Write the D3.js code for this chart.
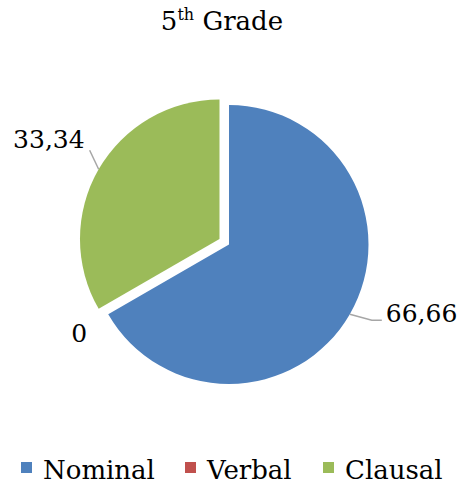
<!DOCTYPE html>
<html>
<head>
<meta charset="utf-8">
<script src="https://cdn.jsdelivr.net/npm/d3@7/dist/d3.min.js"></script>
<style>
  body { margin: 0; background: #fff; }
  svg text { font-family: "DejaVu Serif", serif; fill: #000; }
</style>
</head>
<body>
<div id="chart"></div>
<script>
// data
const categories = ["Nominal", "Verbal", "Clausal"]
const values = [66.66, 0, 33.34]
const valueLabels = ["66,66", "0", "33,34"]
const colors = ["#4F81BD", "#C0504D", "#9BBB59"]

const width = 461
const height = 486
const cx = 229, cy = 244.5
const radius = 139.5
const explode = [0, 0, 11]   // clausal slice is pulled out

const svg = d3.select("#chart")
  .append("svg")
  .attr("width", width)
  .attr("height", height)

// title with superscript
const title = svg.append("text")
  .attr("x", 222)
  .attr("y", 30)
  .attr("text-anchor", "middle")
  .attr("font-size", 26)
title.append("tspan").text("5")
title.append("tspan").attr("dy", -10).attr("font-size", 16).text("th")
title.append("tspan").attr("dy", 10).text(" Grade")

const pie = d3.pie().sort(null).value(d => d)
const arcs = pie(values)
const arc = d3.arc().innerRadius(0).outerRadius(radius)

const g = svg.append("g").attr("transform", `translate(${cx},${cy})`)

// offset of a slice along its bisector
function shift(d, i) {
  const a = (d.startAngle + d.endAngle) / 2
  return [Math.sin(a) * explode[i], -Math.cos(a) * explode[i]]
}

g.selectAll("path.slice")
  .data(arcs)
  .enter()
  .append("path")
  .attr("class", "slice")
  .attr("d", arc)
  .attr("transform", (d, i) => `translate(${shift(d, i)})`)
  .style("fill", (d, i) => colors[i])

// point on the bisector of a slice at radius r
function rim(d, i, r) {
  const a = (d.startAngle + d.endAngle) / 2
  const s = shift(d, i)
  return [s[0] + Math.sin(a) * r, s[1] - Math.cos(a) * r]
}

const lineColor = "#A6A6A6"

// Nominal label
{
  const d = arcs[0]
  const p0 = rim(d, 0, radius)
  const p1 = [p0[0] + 22, p0[1] + 6]
  const p2 = [p1[0] + 10, p1[1]]
  g.append("path")
    .attr("d", d3.line()([p0, p1, p2]))
    .style("fill", "none")
    .style("stroke", lineColor)
    .style("stroke-width", 1.5)
  g.append("text")
    .attr("x", p2[0] + 4)
    .attr("y", p2[1] + 2)
    .attr("font-size", 25)
    .text(valueLabels[0])
}

// Verbal label (zero slice)
{
  const d = arcs[1]
  const p = rim(d, 1, 173)
  g.append("text")
    .attr("x", p[0])
    .attr("y", p[1] + 11)
    .attr("text-anchor", "middle")
    .attr("font-size", 25)
    .text(valueLabels[1])
}

// Clausal label
{
  const d = arcs[2]
  const p0 = rim(d, 2, radius)
  const p1 = [p0[0] - 9, p0[1] - 19]
  g.append("path")
    .attr("d", d3.line()([p0, p1]))
    .style("fill", "none")
    .style("stroke", lineColor)
    .style("stroke-width", 1.5)
  g.append("text")
    .attr("x", p1[0] - 5)
    .attr("y", p1[1] - 2)
    .attr("text-anchor", "end")
    .attr("font-size", 25)
    .text(valueLabels[2])
}

// legend
const legendX = [21, 185, 323]
const legend = svg.append("g")
  .selectAll("g")
  .data(categories)
  .enter()
  .append("g")
  .attr("transform", (d, i) => `translate(${legendX[i]},462)`)
legend.append("rect")
  .attr("width", 11)
  .attr("height", 11)
  .style("fill", (d, i) => colors[i])
legend.append("text")
  .attr("x", 22)
  .attr("y", 17)
  .attr("font-size", 26)
  .text(d => d)
</script>
</body>
</html>
